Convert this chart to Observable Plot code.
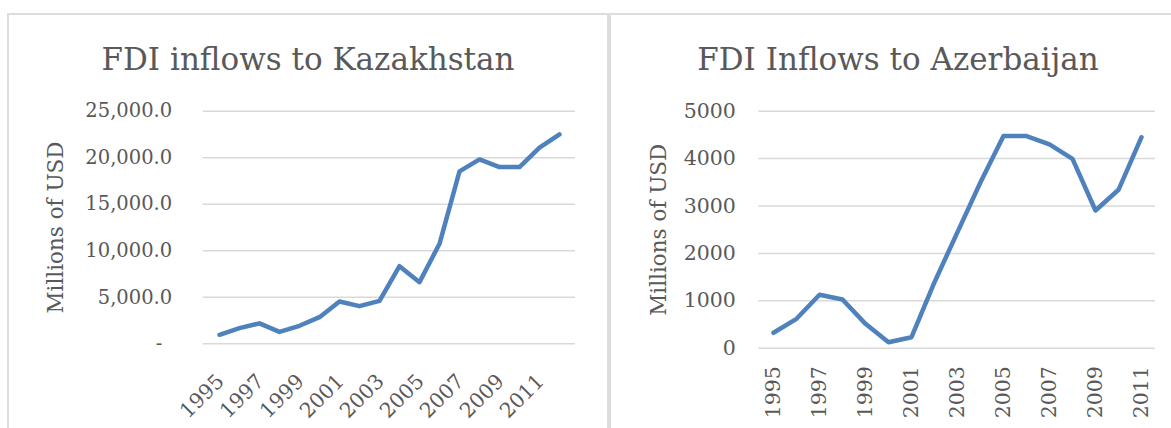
<!DOCTYPE html>
<html>
<head>
<meta charset="utf-8">
<script src="https://cdn.jsdelivr.net/npm/d3@7"></script>
<script src="https://cdn.jsdelivr.net/npm/@observablehq/plot@0.6"></script>
<style>
  html, body { margin: 0; padding: 0; background: #fff; width: 1171px; height: 428px; overflow: hidden; }
  .panel { position: absolute; border: 2px solid #dcdcdc; box-sizing: border-box; background: #fff; }
  .title { position: absolute; font-family: "DejaVu Serif", serif; font-size: 31px; line-height: 1; color: #595959; text-align: center; white-space: nowrap; }
  .chart { position: absolute; }
</style>
</head>
<body>
<div class="panel" style="left:7px; top:13px; width:602px; height:440px;"></div>
<div class="panel" style="left:609px; top:13px; width:600px; height:440px;"></div>
<div class="title" id="t1" style="left:8px; width:600px; top:44px;"></div>
<div class="title" id="t2" style="left:598px; width:600px; top:44px;"></div>
<div class="chart" id="c1" style="left:8px; top:80px;"></div>
<div class="chart" id="c2" style="left:610px; top:80px;"></div>
<script>
// ---- Data ----
const kazTitle = "FDI inflows to Kazakhstan";
const azeTitle = "FDI Inflows to Azerbaijan";
const yLabel = "Millions of USD";

const kazYears = ["1995","1996","1997","1998","1999","2000","2001","2002","2003","2004","2005","2006","2007","2008","2009","2010","2011","2012"];
const kazFDI = [968, 1680, 2200, 1280, 1935, 2860, 4550, 4045, 4620, 8345, 6625, 10750, 18530, 19820, 18990, 19000, 21075, 22506];
const kazYTicks = [0, 5000, 10000, 15000, 20000, 25000];
const kazXTicks = ["1995","1997","1999","2001","2003","2005","2007","2009","2011"];

const azeYears = ["1995","1996","1997","1998","1999","2000","2001","2002","2003","2004","2005","2006","2007","2008","2009","2010","2011"];
const azeFDI = [325, 620, 1127, 1027, 514, 127, 232, 1392, 2450, 3500, 4476, 4475, 4300, 3995, 2905, 3342, 4451];
const azeYTicks = [0, 1000, 2000, 3000, 4000, 5000];
const azeXTicks = ["1995","1997","1999","2001","2003","2005","2007","2009","2011"];

const lineColor = "#4f81bd";
const gridColor = "#d9d9d9";
const textColor = "#595959";

document.getElementById("t1").textContent = kazTitle;
document.getElementById("t2").textContent = azeTitle;

const kazData = kazYears.map((y, i) => ({year: y, value: kazFDI[i]}));
const azeData = azeYears.map((y, i) => ({year: y, value: azeFDI[i]}));

const fmtKaz = d => d === 0 ? "-\u2002" : d3.format(",.1f")(d);

const c1 = Plot.plot({
  width: 599, height: 348,
  marginLeft: 194.7, marginRight: 32, marginTop: 30.7, marginBottom: 84.7,
  style: {fontFamily: "DejaVu Serif", fontSize: "19px", color: textColor, background: "transparent"},
  x: {type: "point", domain: kazYears, padding: 0.5},
  y: {domain: [0, 25000]},
  marks: [
    Plot.ruleY(kazYTicks, {stroke: gridColor, strokeWidth: 1.5}),
    Plot.axisY({ticks: kazYTicks, tickSize: 0, tickPadding: 31, tickFormat: fmtKaz, fontSize: 19.5,
      label: null}),
    Plot.axisY({ticks: [], tickSize: 0, label: yLabel, labelAnchor: "center", labelArrow: "none", labelOffset: 155, fontSize: 21.5}),
    Plot.axisX({ticks: kazXTicks, tickSize: 0, tickPadding: 34, tickRotate: -45, label: null, fontSize: 20.5, dx: 1}),
    Plot.line(kazData, {x: "year", y: "value", stroke: lineColor, strokeWidth: 4.5, strokeLinecap: "round", strokeLinejoin: "round"})
  ]
});
document.getElementById("c1").appendChild(c1);

const c2 = Plot.plot({
  width: 561, height: 348,
  marginLeft: 148.3, marginRight: 16, marginTop: 30.7, marginBottom: 80.3,
  style: {fontFamily: "DejaVu Serif", fontSize: "20px", color: textColor, background: "transparent"},
  x: {type: "point", domain: azeYears, padding: 0.5},
  y: {domain: [0, 5000]},
  marks: [
    Plot.ruleY(azeYTicks, {stroke: gridColor, strokeWidth: 1.5}),
    Plot.axisY({ticks: azeYTicks, tickSize: 0, tickPadding: 23, tickFormat: d => String(d), fontSize: 20.5,
      label: null}),
    Plot.axisY({ticks: [], tickSize: 0, label: yLabel, labelAnchor: "center", labelArrow: "none", labelOffset: 108, fontSize: 21.5}),
    Plot.axisX({ticks: azeXTicks, tickSize: 0, tickPadding: 18, tickRotate: -90, label: null, fontSize: 20.5}),
    Plot.line(azeData, {x: "year", y: "value", stroke: lineColor, strokeWidth: 4.5, strokeLinecap: "round", strokeLinejoin: "round"})
  ]
});
document.getElementById("c2").appendChild(c2);
</script>
</body>
</html>
